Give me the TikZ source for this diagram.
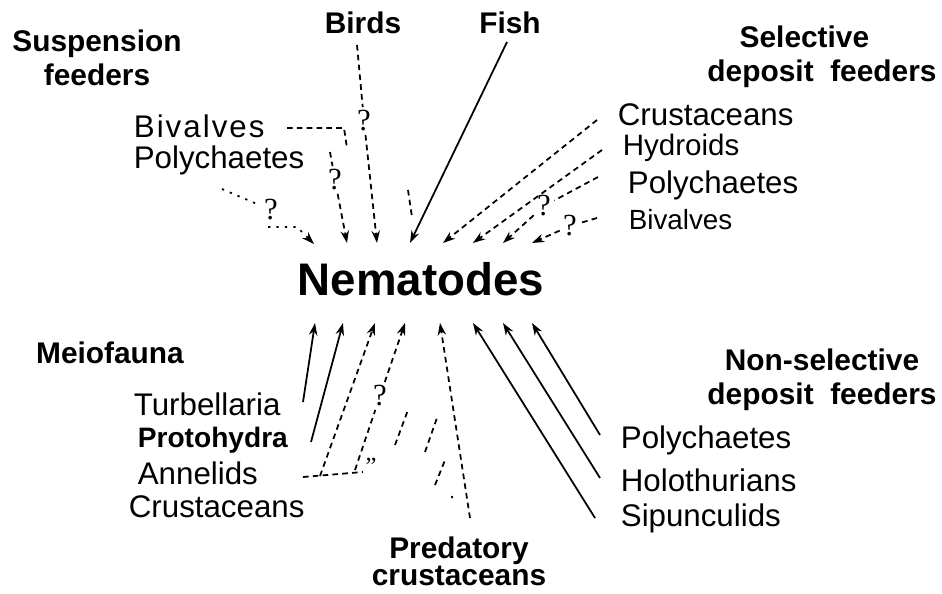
\documentclass[tikz,border=0pt]{standalone}
\usepackage{fontspec}
\setmainfont{Liberation Sans}
\newfontfamily\qmfont{Liberation Serif}
\usetikzlibrary{arrows.meta}

\begin{document}
\begin{tikzpicture}[x=0.02cm, y=-0.02cm,
  lbl/.style={inner sep=0pt, anchor=west, font=\fontsize{17.8}{20}\selectfont},
  head/.style={inner sep=0pt, align=center, font=\bfseries\fontsize{17}{19.5}\selectfont},
  qm/.style={inner sep=1.5pt, font=\qmfont\fontsize{17.5}{17.5}\selectfont},
  feed/.style={-{Stealth[length=7pt,width=4.8pt]}},
  dsh/.style={dash pattern=on 3.2pt off 2.4pt},
  dtt/.style={dash pattern=on 1.3pt off 3.5pt},
  line width=1pt]
  \useasboundingbox (0,0) rectangle (942,594);

  \node[inner sep=0pt, font=\bfseries\fontsize{26}{28}\selectfont] (nem) at (421,279) {Nematodes};

  \node[head] (susp) at (97,58) {Suspension\\feeders};
  \node[head] (birds) at (363,23) {Birds};
  \node[head] (fish) at (510,23) {Fish};
  \node[head] (sel) at (822,57) {Selective\hspace*{20pt}\\deposit\ \ feeders};
  \node[head] (meio) at (110,353) {Meiofauna};
  \node[head] (nonsel) at (822,380) {Non-selective\\deposit\ \ feeders};
  \node[head, font=\bfseries\fontsize{17}{15.5}\selectfont] (pred) at (459,561) {Predatory\\crustaceans};

  \node[lbl, font=\addfontfeature{LetterSpace=6.5}\fontsize{17.8}{20}\selectfont] (sBiv) at (133,126) {Bivalves};
  \node[lbl] (sPol) at (133,160) {Polychaetes};

  \node[lbl] (cCru) at (617,115) {Crustaceans};
  \node[lbl, font=\fontsize{16.8}{20}\selectfont] (cHyd) at (622,148) {Hydroids};
  \node[lbl] (cPol) at (627,185) {Polychaetes};
  \node[lbl, font=\fontsize{15.8}{18}\selectfont] (cBiv) at (628,220) {Bivalves};

  \node[lbl] (mTur) at (133,404) {Turbellaria};
  \node[lbl, font=\bfseries\fontsize{16}{19}\selectfont] (mPro) at (137,440) {Protohydra};
  \node[lbl] (mAnn) at (137,473) {Annelids};
  \node[lbl] (mCru) at (128,507) {Crustaceans};

  \node[lbl] (nPol) at (620,440) {Polychaetes};
  \node[lbl] (nHol) at (620,480) {Holothurians};
  \node[lbl] (nSip) at (620,518) {Sipunculids};

  \node[qm] (q1) at (271,210) {?};
  \node[qm] (q2) at (364,121) {?};
  \node[qm] (q3) at (335,180) {?};
  \node[qm] (q4) at (544,206) {?};
  \node[qm] (q5) at (570,226) {?};
  \node[qm] (q6) at (380,396) {?};
  \node[qm, inner sep=0pt, font=\qmfont\fontsize{14}{14}\selectfont] (ditto) at (371,466) {\textquotedblright};

  \coordinate (s0) at (222,189);
  \coordinate (s1) at (268,227);
  \coordinate (s2) at (297,227);
  \coordinate (t1) at (314,244);
  \coordinate (b0) at (357,45);
  \coordinate (t2) at (377,243);
  \coordinate (v0) at (287,128);
  \coordinate (v1) at (344,128);
  \coordinate (v2) at (347,148);
  \coordinate (p0) at (330,152);
  \coordinate (t3) at (347,243);
  \coordinate (k0) at (408,190);
  \coordinate (k1) at (412,217);
  \coordinate (f0) at (507,42);
  \coordinate (t4) at (410,243);
  \coordinate (c0) at (597,120);
  \coordinate (t5) at (443,243);
  \coordinate (h0) at (602,150);
  \coordinate (t6) at (473,243);
  \coordinate (pp0) at (598,177);
  \coordinate (t7) at (503,243);
  \coordinate (bb0) at (597,218);
  \coordinate (t8) at (532,243);

  \draw[dtt] (s0) -- (q1);
  \draw[dtt, feed] (s1) -- (s2) -- (t1);
  \draw[dsh] (b0) -- (q2);
  \draw[dsh, feed] (q2) -- (t2);
  \draw[dsh] (v0) -- (v1) -- (v2);
  \draw[dsh] (p0) -- (q3);
  \draw[dsh, feed] (q3) -- (t3);
  \draw[dsh] (k0) -- (k1);
  \draw[feed] (f0) -- (t4);
  \draw[dsh, feed] (c0) -- (t5);
  \draw[dsh, feed] (h0) -- (t6);
  \draw[dsh] (pp0) -- (q4);
  \draw[dsh, feed] (q4) -- (t7);
  \draw[dsh] (bb0) -- (q5);
  \draw[dsh, feed] (q5) -- (t8);

  \coordinate (m0) at (303,402);
  \coordinate (u1) at (315,323);
  \coordinate (m1) at (311,442);
  \coordinate (u2) at (343,323);
  \coordinate (a0) at (303,477);
  \coordinate (a1) at (363,472);
  \coordinate (a2) at (320,476);
  \coordinate (u3) at (375,323);
  \coordinate (a3) at (355,470);
  \coordinate (u4) at (405,323);
  \coordinate (r0) at (470,518);
  \coordinate (u5) at (440,323);
  \coordinate (n0) at (600,435);
  \coordinate (u8) at (532,323);
  \coordinate (n1) at (600,478);
  \coordinate (u7) at (503,323);
  \coordinate (n2) at (595,518);
  \coordinate (u6) at (473,323);

  \draw[feed] (m0) -- (u1);
  \draw[feed] (m1) -- (u2);
  \draw[dsh] (a0) -- (a1);
  \draw[dsh, feed] (a2) -- (u3);
  \draw[dsh] (a3) -- (q6);
  \draw[dsh, feed] (q6) -- (u4);
  \draw[dsh] (395,445) -- (408,410);
  \draw[dsh] (425,452) -- (438,415);
  \draw[dsh] (435,485) -- (445,460);
  \draw[dtt] (452,496) -- (453,504);
  \draw[dsh, feed] (r0) -- (u5);
  \draw[feed] (n0) -- (u8);
  \draw[feed] (n1) -- (u7);
  \draw[feed] (n2) -- (u6);
\end{tikzpicture}
\end{document}
